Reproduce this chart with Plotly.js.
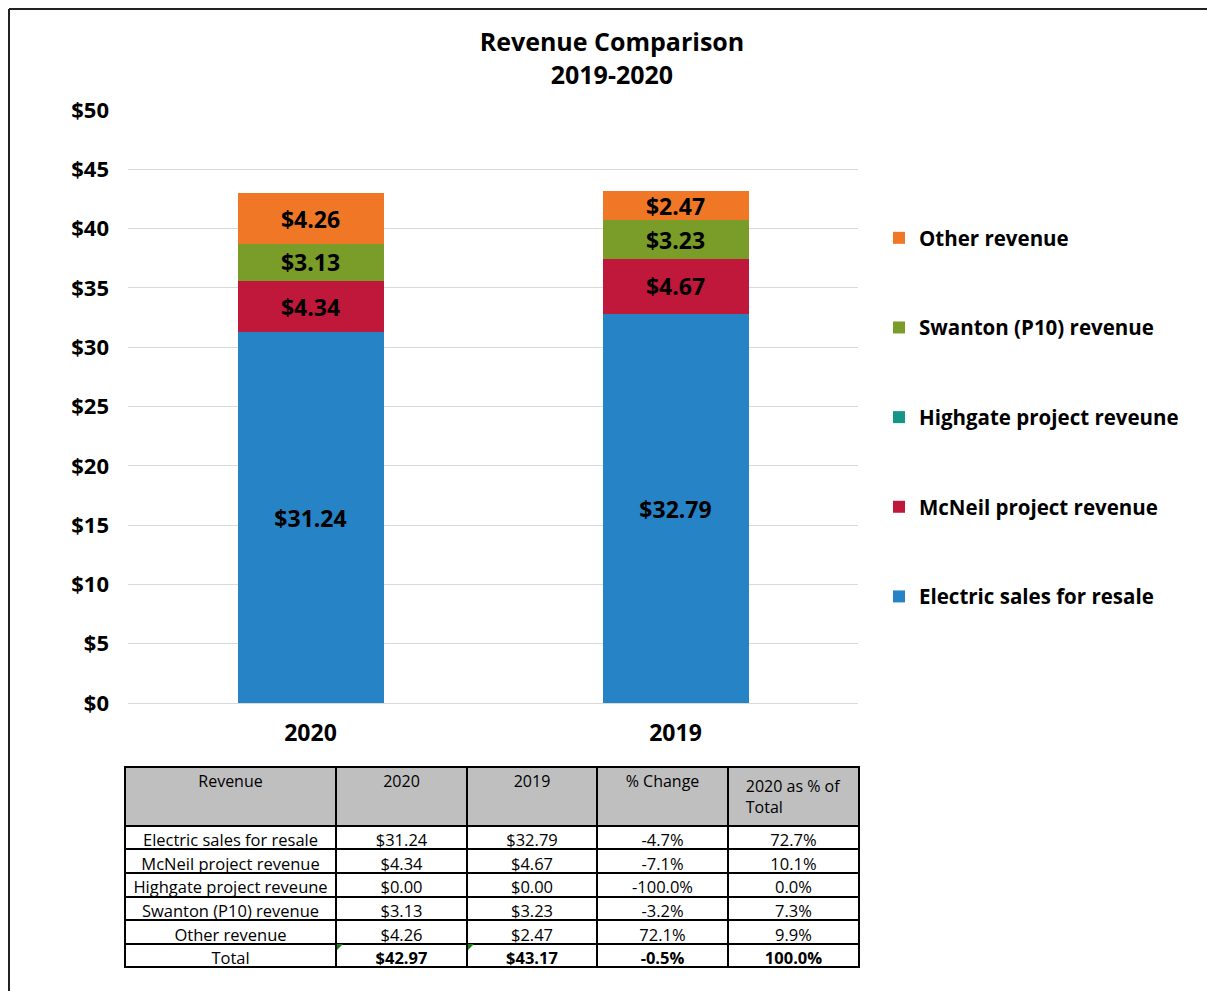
<!DOCTYPE html>
<html>
<head>
<meta charset="utf-8">
<script src="https://cdn.plot.ly/plotly-3.0.1.min.js"></script>
<style>
html,body{margin:0;padding:0;background:#fff;}
#chart{width:1207px;height:991px;}
</style>
</head>
<body>
<div id="chart"></div>
<script>
const categories = ['2020', '2019'];
const seriesNames = ['Electric sales for resale', 'McNeil project revenue', 'Highgate project reveune', 'Swanton (P10) revenue', 'Other revenue'];
const electric = [31.24, 32.79];
const mcneil = [4.34, 4.67];
const highgate = [0.00, 0.00];
const swanton = [3.13, 3.23];
const other = [4.26, 2.47];
const totals = [42.97, 43.17];
const pctChange = ['-4.7%', '-7.1%', '-100.0%', '-3.2%', '72.1%', '-0.5%'];
const pctOfTotal = ['72.7%', '10.1%', '0.0%', '7.3%', '9.9%', '100.0%'];
const yTicks = [0, 5, 10, 15, 20, 25, 30, 35, 40, 45, 50];

const colors = ['#2683C6', '#C0183A', '#13958A', '#7A9C28', '#F07726'];
const series = [electric, mcneil, highgate, swanton, other];

const W = 1207, H = 991;
const px = x => x / W;
const py = y => 1 - y / H;
const FONT = '"Open Sans", Lato, sans-serif';

const traces = series.map((vals, i) => ({
  type: 'bar',
  name: seriesNames[i],
  x: categories,
  y: vals,
  legendgroup: 'g' + i,
  legendrank: 10 - i,
  marker: {color: colors[i], line: {width: 0}},
  text: vals.map(v => v > 0 ? '$' + v.toFixed(2) : ''),
  textposition: 'inside',
  insidetextanchor: 'middle',
  constraintext: 'none',
  textangle: 0,
  textfont: {family: FONT, size: 23, color: '#000', weight: 'bold'},
  hoverinfo: 'skip'
}));

const fmt = v => '$' + v.toFixed(2);
const nb = s => s.replace(/ /g, '\u00a0');
const colRevenue = seriesNames.concat(['Total']).map(nb);
const col2020 = series.map(s => fmt(s[0])).concat([fmt(totals[0])]);
const col2019 = series.map(s => fmt(s[1])).concat([fmt(totals[1])]);
const cellValues = [colRevenue, col2020, col2019, pctChange, pctOfTotal];
const cellWeights = cellValues.map((col, c) => col.map((v, r) => (c > 0 && r === col.length - 1) ? 'bold' : 'normal'));

traces.push({
  type: 'table',
  domain: {x: [px(125), px(860)], y: [0, py(767)]},
  columnwidth: [211, 131, 130, 131, 131],
  header: {
    values: ['Revenue', '2020', '2019', nb('% Change'), nb('2020 as % of') + '<br>Total'],
    align: 'center',
    height: 49,
    fill: {color: '#BFBFBF'},
    line: {color: '#000', width: 2},
    font: {family: FONT, size: 16, color: '#000'}
  },
  cells: {
    values: cellValues,
    align: 'center',
    height: 23.6,
    fill: {color: '#fff'},
    line: {color: '#000', width: 2},
    font: {family: FONT, size: 16.5, color: '#000', weight: cellWeights}
  }
});

const layout = {
  width: W, height: H,
  margin: {l: 0, r: 0, t: 0, b: 0},
  paper_bgcolor: '#fff',
  plot_bgcolor: '#fff',
  barmode: 'stack',
  bargap: 0.6,
  showlegend: true,
  font: {family: FONT, color: '#000'},
  title: {
    text: '<b>Revenue Comparison<br>2019-2020</b>',
    x: 0.507, xanchor: 'center',
    y: py(51), yanchor: 'top',
    font: {family: FONT, size: 25, color: '#000'}
  },
  xaxis: {
    domain: [px(128), px(858)],
    type: 'category',
    tickfont: {family: FONT, size: 23, color: '#000', weight: 'bold'},
    ticklabelstandoff: 14,
    showgrid: false, zeroline: false, showline: false,
    ticks: '', fixedrange: true, automargin: false
  },
  yaxis: {
    domain: [py(703), py(110)],
    range: [0, 50],
    tickvals: yTicks,
    ticktext: yTicks.map(v => '$' + v),
    tickfont: {family: FONT, size: 22, color: '#000', weight: 'bold'},
    ticklabelstandoff: 18,
    showgrid: true, gridcolor: '#D9D9D9', gridwidth: 1,
    zeroline: true, zerolinecolor: '#D9D9D9', zerolinewidth: 1,
    showline: false, ticks: '', fixedrange: true, automargin: false
  },
  legend: {
    x: px(879), xanchor: 'left',
    y: py(218), yanchor: 'top',
    traceorder: 'grouped',
    tracegroupgap: 60,
    font: {family: FONT, size: 20.5, color: '#000', weight: 'bold'},
    bgcolor: 'rgba(0,0,0,0)',
    itemclick: false, itemdoubleclick: false
  },
  shapes: [
    {type: 'line', xref: 'paper', yref: 'paper', x0: px(9), x1: px(9), y0: 0, y1: py(9), line: {color: '#222', width: 2}},
    {type: 'line', xref: 'paper', yref: 'paper', x0: px(9), x1: 1, y0: py(9), y1: py(9), line: {color: '#222', width: 2}},
    {type: 'path', xref: 'paper', yref: 'paper', path: 'M' + px(337) + ',' + py(944) + ' L' + px(343) + ',' + py(944) + ' L' + px(337) + ',' + py(950) + ' Z', fillcolor: '#1E7B1E', line: {width: 0}},
    {type: 'path', xref: 'paper', yref: 'paper', path: 'M' + px(468) + ',' + py(944) + ' L' + px(474) + ',' + py(944) + ' L' + px(468) + ',' + py(950) + ' Z', fillcolor: '#1E7B1E', line: {width: 0}}
  ]
};

Plotly.newPlot('chart', traces, layout, {staticPlot: true, displayModeBar: false});
</script>
</body>
</html>
